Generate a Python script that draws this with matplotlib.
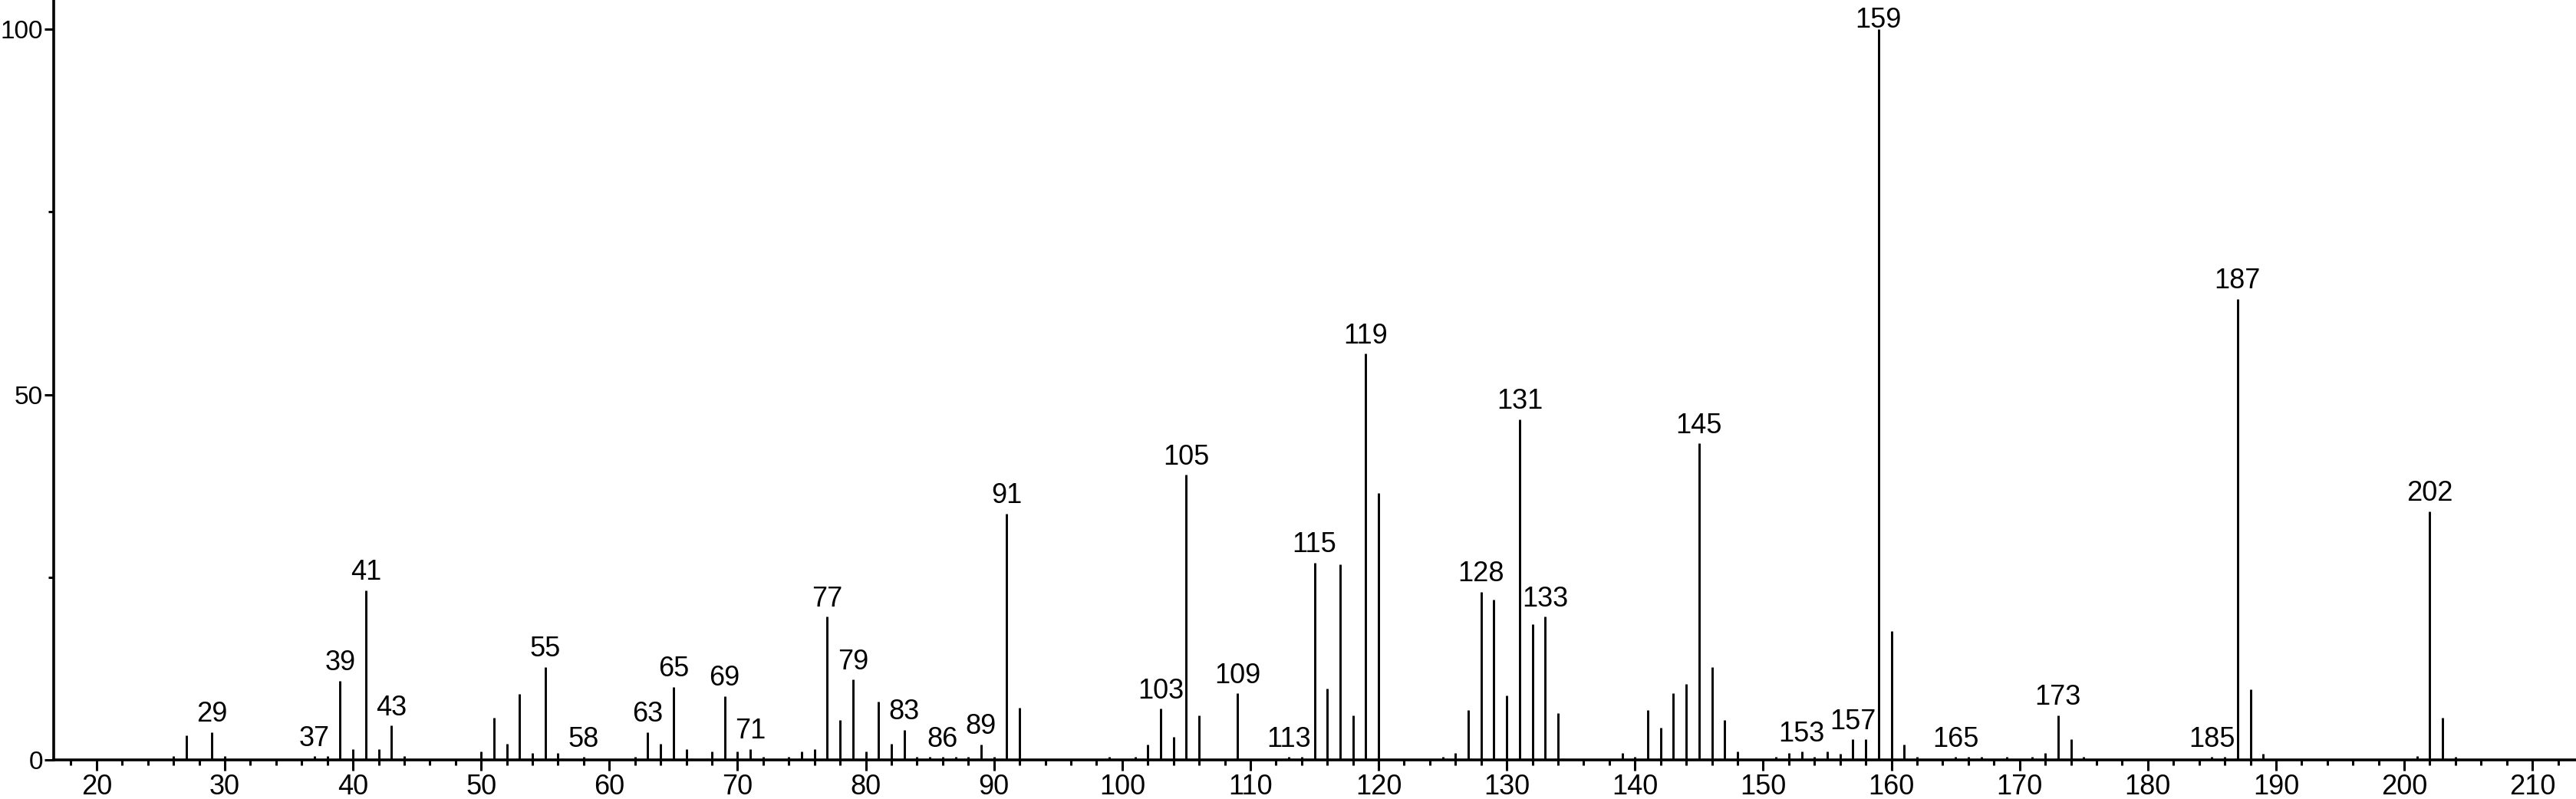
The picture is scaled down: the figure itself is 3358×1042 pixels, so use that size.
import matplotlib
matplotlib.use('Agg')
import matplotlib.pyplot as plt
from matplotlib.ticker import MultipleLocator

plt.rcParams['font.family'] = ['Liberation Sans', 'DejaVu Sans']

## peaks: m/z and relative intensity
mz = [26, 27, 29, 30, 37, 38, 39, 40, 41, 42, 43, 44,
      50, 51, 52, 53, 54, 55, 56, 58, 62, 63, 64, 65, 66, 68, 69, 70, 71, 72,
      74, 75, 76, 77, 78, 79, 80, 81, 82, 83, 84, 85, 86, 87, 88, 89, 90,
      91, 92, 99, 101, 102, 103, 104, 105, 106, 109, 113, 114, 115, 116,
      117, 118, 119, 120, 125, 126, 127, 128, 129, 130, 131, 132, 133, 134,
      139, 140, 141, 142, 143, 144, 145, 146, 147, 148, 151, 152, 153, 154,
      155, 156, 157, 158, 159, 160, 161, 162, 165, 166, 167, 169, 171, 172,
      173, 174, 175, 185, 186, 187, 188, 189, 201, 202, 203, 204]
intensity = [0.5, 3.4, 3.8, 0.5, 0.5, 0.5, 10.8, 1.5, 23.2, 1.5, 4.7, 0.5,
             1.2, 5.8, 2.2, 9.0, 0.9, 12.7, 0.9, 0.4, 0.4, 3.8, 2.2, 10.0, 1.5, 1.2, 8.7, 1.2, 1.5, 0.4,
             0.4, 1.2, 1.5, 19.6, 5.4, 11.0, 1.2, 8.0, 2.2, 4.1, 0.4, 0.4, 0.4, 0.4, 0.4, 2.1, 0.4,
             33.7, 7.1, 0.4, 0.4, 2.1, 7.0, 3.1, 39.0, 6.1, 9.1, 0.4, 0.4, 27.0, 9.8,
             26.8, 6.1, 55.6, 36.5, 0.4, 0.9, 6.8, 23.0, 21.9, 8.8, 46.6, 18.6, 19.6, 6.4,
             0.9, 0.4, 6.8, 4.4, 9.1, 10.4, 43.3, 12.7, 5.4, 1.1, 0.4, 0.9, 1.1, 0.4,
             1.1, 0.8, 2.8, 2.8, 100.0, 17.6, 2.1, 0.4, 0.4, 0.4, 0.4, 0.4, 0.4, 0.9,
             6.1, 2.8, 0.4, 0.4, 0.4, 63.1, 9.7, 0.8, 0.5, 34.0, 5.8, 0.4]
labeled = [29, 37, 39, 41, 43, 55, 58, 63, 65, 69, 71, 77, 79, 83, 86, 89, 91,
           103, 105, 109, 113, 115, 119, 128, 131, 133, 145, 153, 157, 159,
           165, 173, 185, 187, 202]

fig = plt.figure(figsize=(33.58, 10.42), dpi=100)
ax = fig.add_axes([0.0208, 0.049, 0.9792, 0.951])

ax.vlines(mz, 0, intensity, colors='black', lw=2.1)

# labels sit above the peak; near the top they are pushed down onto the line
for m, h in zip(mz, intensity):
    if m in labeled:
        ax.annotate(str(m), (m, min(h, 98.8)), xytext=(0, 4), textcoords='offset points',
                    ha='center', va='bottom', fontsize=26, clip_on=False)

ax.set_xlim(16.65, 213.4)
ax.set_ylim(0, 104.0)

ax.spines['top'].set_visible(False)
ax.spines['right'].set_visible(False)
ax.spines['left'].set_linewidth(2.6)
ax.spines['bottom'].set_linewidth(2.6)

ax.xaxis.set_major_locator(MultipleLocator(10))
ax.xaxis.set_minor_locator(MultipleLocator(2))
ax.yaxis.set_major_locator(MultipleLocator(50))
ax.yaxis.set_minor_locator(MultipleLocator(25))
ax.tick_params(axis='both', which='major', length=10, width=2.2, labelsize=26, direction='out')
ax.tick_params(axis='both', which='minor', length=5, width=2.2, direction='out')
ax.tick_params(axis='x', which='major', pad=3)
ax.tick_params(axis='y', which='major', length=9, pad=1, labelsize=24)

fig.savefig('out.png', dpi=100)
